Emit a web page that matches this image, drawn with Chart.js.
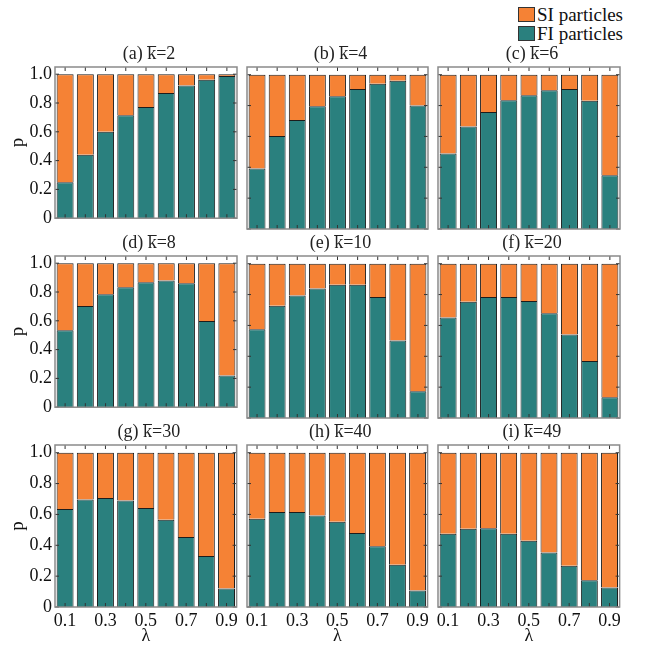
<!DOCTYPE html>
<html lang="en">
<head>
<meta charset="UTF-8">
<title>FI / SI particles</title>
<script src="https://cdn.jsdelivr.net/npm/chart.js"></script>
<style>
  body { margin: 0; background: #fff; }
  #wrap { position: relative; width: 648px; height: 650px; }
  canvas.panel { position: absolute; }
  #legend { position: absolute; left: 518px; top: 5px; font: 19px "Liberation Serif", serif; line-height: 19px; color: #111; }
  #legend div { display: flex; align-items: center; }
  #legend span.box { display: inline-block; width: 15px; height: 13px; border: 1px solid #333; margin-right: 2px; }
</style>
</head>
<body>
<div id="wrap">
  <div id="legend">
    <div><span class="box" style="background:#f58235"></span>SI particles</div>
    <div><span class="box" style="background:#2a807e"></span>FI particles</div>
  </div>
</div>
<script>
var lambdaLabels = ['0.1', '0.2', '0.3', '0.4', '0.5', '0.6', '0.7', '0.8', '0.9'];
var yTickValues = [0, 0.2, 0.4, 0.6, 0.8, 1.0];
var panelLetters = ['(a)', '(b)', '(c)', '(d)', '(e)', '(f)', '(g)', '(h)', '(i)'];
var kMean = ['2', '4', '6', '8', '10', '20', '30', '40', '49'];

// FI particles (lower, teal)
var fiK2  = [0.25, 0.44, 0.60, 0.715, 0.773, 0.869, 0.921, 0.961, 0.987];
var fiK4  = [0.392, 0.603, 0.706, 0.795, 0.861, 0.908, 0.941, 0.961, 0.80];
var fiK6  = [0.49, 0.664, 0.758, 0.834, 0.867, 0.90, 0.908, 0.832, 0.349];
var fiK8  = [0.534, 0.703, 0.785, 0.833, 0.868, 0.879, 0.861, 0.599, 0.221];
var fiK10 = [0.575, 0.727, 0.794, 0.839, 0.863, 0.863, 0.785, 0.503, 0.174];
var fiK20 = [0.651, 0.753, 0.785, 0.785, 0.759, 0.679, 0.542, 0.369, 0.134];
var fiK30 = [0.635, 0.696, 0.707, 0.691, 0.641, 0.565, 0.454, 0.330, 0.12];
var fiK40 = [0.572, 0.615, 0.615, 0.593, 0.552, 0.48, 0.393, 0.274, 0.107];
var fiK49 = [0.474, 0.507, 0.511, 0.474, 0.43, 0.354, 0.267, 0.174, 0.126];

// SI particles (upper, orange), the rest up to 1
var siK2  = [0.75, 0.56, 0.40, 0.285, 0.227, 0.131, 0.079, 0.039, 0.013];
var siK4  = [0.608, 0.397, 0.294, 0.205, 0.139, 0.092, 0.059, 0.039, 0.20];
var siK6  = [0.51, 0.336, 0.242, 0.166, 0.133, 0.10, 0.092, 0.168, 0.651];
var siK8  = [0.466, 0.297, 0.215, 0.167, 0.132, 0.121, 0.139, 0.401, 0.779];
var siK10 = [0.425, 0.273, 0.206, 0.161, 0.137, 0.137, 0.215, 0.497, 0.826];
var siK20 = [0.349, 0.247, 0.215, 0.215, 0.241, 0.321, 0.458, 0.631, 0.866];
var siK30 = [0.365, 0.304, 0.293, 0.309, 0.359, 0.435, 0.546, 0.670, 0.88];
var siK40 = [0.428, 0.385, 0.385, 0.407, 0.448, 0.52, 0.607, 0.726, 0.893];
var siK49 = [0.526, 0.493, 0.489, 0.526, 0.57, 0.646, 0.733, 0.826, 0.874];

var fiAll = [fiK2, fiK4, fiK6, fiK8, fiK10, fiK20, fiK30, fiK40, fiK49];
var siAll = [siK2, siK4, siK6, siK8, siK10, siK20, siK30, siK40, siK49];

var colLeft = [55, 247, 438];
var colWidth = [182, 181, 182];
var rowTop = [67, 256, 445];
var frameH = 162;
var padL = 60, padT = 34, padR = 4;

var serif = '"Liberation Serif", "DejaVu Serif", serif';

// frame box plus inward ticks, like the original plot style
var framePlugin = {
    id: 'frame',
    afterDraw: function(chart) {
        var a = chart.chartArea, c = chart.ctx;
        var xs = chart.scales.x, ys = chart.scales.y;
        c.save();
        c.strokeStyle = '#333';
        c.lineWidth = 1;
        c.beginPath();
        ys.ticks.forEach(function(t, i) {
            var y = ys.getPixelForTick(i);
            c.moveTo(a.left, y); c.lineTo(a.left + 4, y);
            c.moveTo(a.right, y); c.lineTo(a.right - 4, y);
        });
        for (var i = 0; i < lambdaLabels.length; i++) {
            var x = xs.getPixelForTick(i);
            c.moveTo(x, a.top); c.lineTo(x, a.top + 4);
            c.moveTo(x, a.bottom); c.lineTo(x, a.bottom - 4);
        }
        c.stroke();
        c.strokeStyle = '#8a8a8a';
        c.lineWidth = 1.5;
        c.strokeRect(a.left, a.top, a.right - a.left, a.bottom - a.top);
        c.restore();
    }
};

// panel title "(a) k=2" with a bar over the k
var kTitlePlugin = {
    id: 'kTitle',
    afterDraw: function(chart, args, opts) {
        var a = chart.chartArea, c = chart.ctx;
        var pre = opts.letter + ' ', k = 'k', post = '=' + opts.k;
        c.save();
        c.font = '18px ' + serif;
        c.fillStyle = '#222';
        c.textBaseline = 'alphabetic';
        c.textAlign = 'left';
        var wPre = c.measureText(pre).width, wK = c.measureText(k).width;
        var total = c.measureText(pre + k + post).width;
        var x0 = (a.left + a.right) / 2 - total / 2 + 3;
        var base = a.top - 8.5;
        c.fillText(pre + k + post, x0, base);
        c.strokeStyle = '#222';
        c.lineWidth = 1;
        c.beginPath();
        c.moveTo(x0 + wPre, Math.round(base - 13) + 0.5);
        c.lineTo(x0 + wPre + wK, Math.round(base - 13) + 0.5);
        c.stroke();
        c.restore();
    }
};

var wrap = document.getElementById('wrap');

for (var p = 0; p < 9; p++) {
    var row = Math.floor(p / 3), col = p % 3;
    var isLeft = col === 0, isBottom = row === 2;
    var padB = isBottom ? 45 : 3;

    var cv = document.createElement('canvas');
    cv.className = 'panel';
    var w = colWidth[col] + padL + padR;
    var h = frameH + padT + padB;
    cv.style.left = (colLeft[col] - padL) + 'px';
    cv.style.top = (rowTop[row] - padT) + 'px';
    cv.style.width = w + 'px';
    cv.style.height = h + 'px';
    cv.width = w; cv.height = h;
    wrap.appendChild(cv);

    new Chart(cv.getContext('2d'), {
        type: 'bar',
        data: {
            labels: lambdaLabels,
            datasets: [{
                label: 'FI particles',
                data: fiAll[p],
                backgroundColor: '#2a807e',
                borderColor: '#1c1c1c',
                borderWidth: 1,
                categoryPercentage: 1.0,
                barPercentage: 0.84
            }, {
                label: 'SI particles',
                data: siAll[p],
                backgroundColor: '#f58235',
                borderColor: '#1c1c1c',
                borderWidth: 1,
                categoryPercentage: 1.0,
                barPercentage: 0.84
            }]
        },
        options: {
            responsive: false,
            animation: false,
            layout: { padding: { top: padT, right: padR, bottom: 0, left: 0 } },
            plugins: {
                legend: { display: false },
                tooltip: { enabled: false },
                title: { display: false },
                kTitle: { letter: panelLetters[p], k: kMean[p] }
            },
            scales: {
                x: {
                    stacked: true,
                    grid: { display: false, drawTicks: false },
                    border: { display: false },
                    ticks: {
                        display: isBottom,
                        autoSkip: false,
                        maxRotation: 0,
                        padding: 3,
                        color: '#111',
                        font: { family: serif, size: 18 },
                        callback: function(v, i) { return i % 2 === 0 ? lambdaLabels[i] : ''; }
                    },
                    title: {
                        display: isBottom,
                        text: '\u03bb',
                        color: '#111',
                        padding: { top: 0, bottom: 5 },
                        font: { family: serif, size: 18 }
                    },
                    afterFit: (function(hh) { return function(s) { s.height = hh; }; })(padB)
                },
                y: {
                    stacked: true,
                    min: 0,
                    max: 1.05,
                    grid: { display: false, drawTicks: false },
                    border: { display: false },
                    ticks: {
                        display: isLeft,
                        padding: 3,
                        color: '#111',
                        font: { family: serif, size: 18 },
                        callback: function(v) { return v === 0 ? '0' : v.toFixed(1); }
                    },
                    afterBuildTicks: function(s) {
                        s.ticks = yTickValues.map(function(v) { return { value: v }; });
                    },
                    title: {
                        display: isLeft,
                        text: 'p',
                        color: '#111',
                        padding: { top: 12, bottom: 0 },
                        font: { family: serif, size: 19 }
                    },
                    afterFit: function(s) { s.width = padL; }
                }
            }
        },
        plugins: [framePlugin, kTitlePlugin]
    });
}
</script>
</body>
</html>
